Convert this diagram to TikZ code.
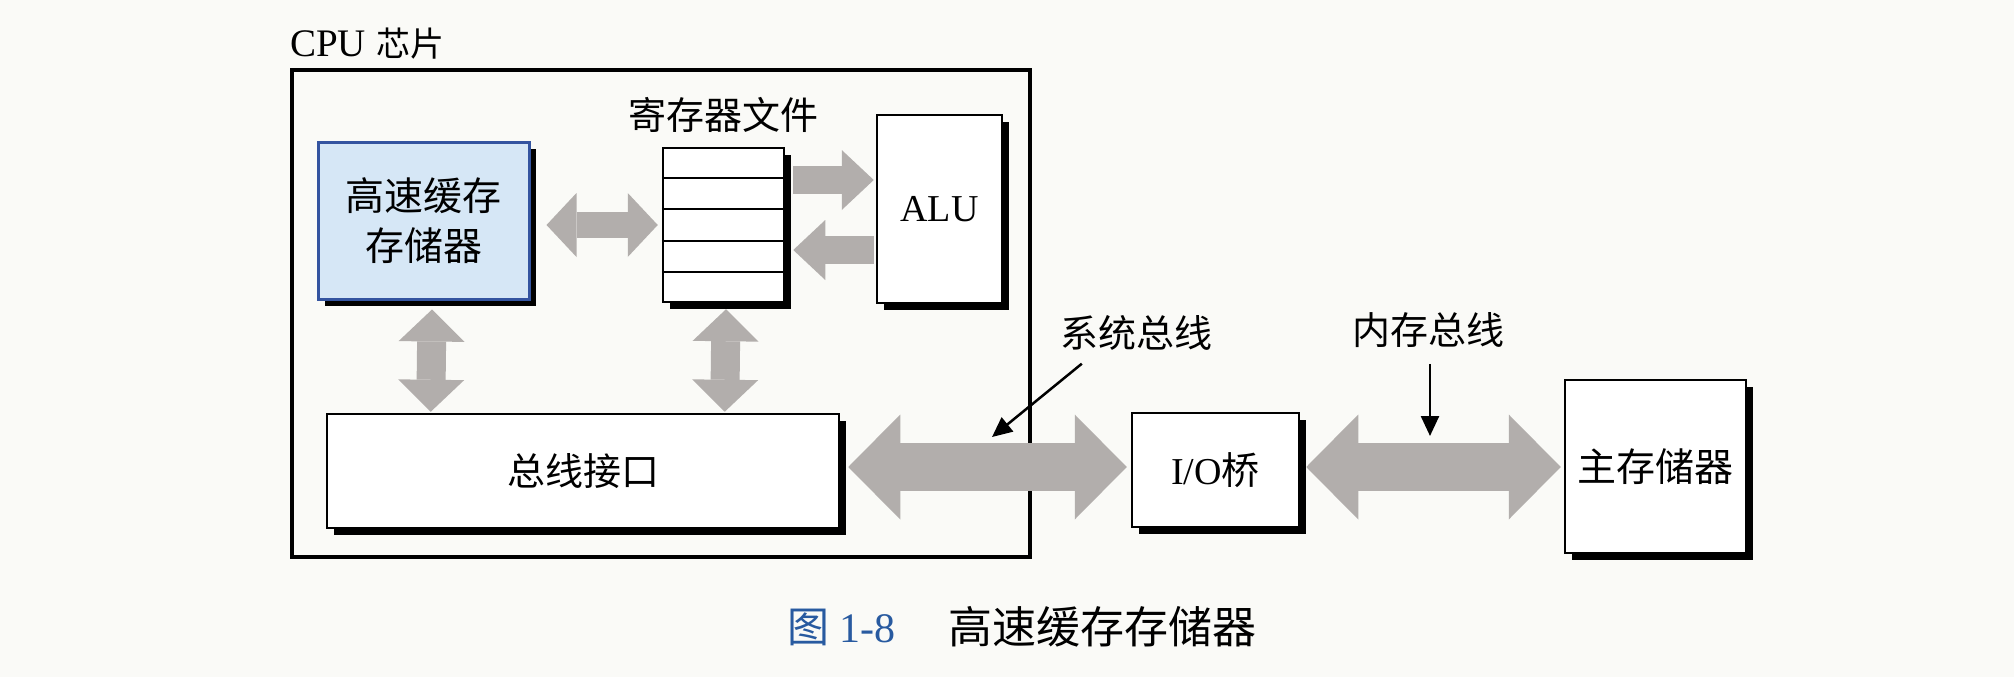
\documentclass[tikz,border=0pt]{standalone}
\usepackage{xcolor}
\usepackage{tikz}
\usepackage{fontspec}
\setmainfont{Liberation Serif}
\newfontfamily\cjk{Noto Sans CJK SC}
\usetikzlibrary{calc}
\usetikzlibrary{shadows}
\usetikzlibrary{arrows.meta, positioning}

\definecolor{paper}{RGB}{250,250,247}
\definecolor{cachefill}{RGB}{214,231,246}
\definecolor{cacheline}{RGB}{52,84,160}
\definecolor{busgray}{RGB}{178,174,172}
\definecolor{capblue}{RGB}{40,90,160}

\begin{document}
\begin{tikzpicture}[x=1pt,y=-1pt,
    box node/.style={rectangle,draw,line width=2.5pt,fill=white,inner sep=0pt,
      drop shadow={shadow xshift=7pt,shadow yshift=-7pt,fill=black,opacity=1},
      font=\fontsize{38}{48}\selectfont},
    label node/.style={inner sep=0pt,font=\fontsize{38}{48}\selectfont\cjk},
    mid bus/.style={draw=busgray,line width=26pt,>={Triangle[length=30pt,width=64pt,line width=0pt]}},
    reg bus/.style={draw=busgray,line width=28pt,>={Triangle[length=32pt,width=60pt,line width=0pt]}},
    up bus/.style={draw=busgray,line width=29pt,>={Triangle[length=32pt,width=66pt,line width=0pt]}},
    big bus/.style={draw=busgray,line width=48pt,>={Triangle[length=52pt,width=105pt,line width=0pt]}},
    pointer/.style={draw=black,line width=2.5pt,-{Triangle[length=20pt,width=18pt]}}]

  \path[use as bounding box,fill=paper] (0,0) rectangle (2014,677);

  % CPU chip frame
  \node[draw,line width=4pt,minimum width=738pt,minimum height=487pt,inner sep=0pt] (0) at (661,313.5) {};
  \node[label node,font=\fontsize{39}{44}\selectfont,above right=9pt and 0pt of 0.north west] (l0) {CPU\hspace{10pt}{\fontsize{34}{40}\selectfont\cjk 芯片}};

  \node[box node,draw=cacheline,fill=cachefill,line width=3pt,minimum width=211pt,minimum height=157pt,
        align=center,font=\fontsize{39}{50}\selectfont\cjk] (1) at (423.5,220.5) {高速缓存\\存储器};
  \node[box node,minimum width=121pt,minimum height=154pt] (2) at (723.5,225) {};
  \node[label node,above=14pt of 2] (l2) {寄存器文件};
  \node[box node,minimum width=125pt,minimum height=188pt] (3) at (939.5,209) {ALU};
  \node[box node,minimum width=512pt,minimum height=114pt,font=\fontsize{38}{48}\selectfont\cjk] (4) at (583,471) {总线接口};
  \node[box node,minimum width=167pt,minimum height=114pt] (5) at (1215.5,470) {I/O{\cjk 桥}};
  \node[box node,minimum width=181pt,minimum height=173pt,font=\fontsize{39}{48}\selectfont\cjk] (6) at (1655.5,466.5) {主存储器};

  % register rows
  \draw[line width=2pt] ($(2.north west)!0.2!(2.south west)$) -- ($(2.north east)!0.2!(2.south east)$);
  \draw[line width=2pt] ($(2.north west)!0.4!(2.south west)$) -- ($(2.north east)!0.4!(2.south east)$);
  \draw[line width=2pt] ($(2.north west)!0.6!(2.south west)$) -- ($(2.north east)!0.6!(2.south east)$);
  \draw[line width=2pt] ($(2.north west)!0.8!(2.south west)$) -- ($(2.north east)!0.8!(2.south east)$);

  % bus labels
  \node[label node] (l5) at (1136,333) {系统总线};
  \node[label node] (l6) at (1428,330) {内存总线};
  \coordinate (p5) at (992,437);
  \coordinate (p6) at (1430,436);

  \path
    ($(1.east)+(16,4.5)$) edge[mid bus,<->] ($(2.west)+(-4,0)$)
    ($(2.east)+(8,-45)$) edge[reg bus,->] ($(3.west)+(-2,-29)$)
    ($(3.west)+(-2,41)$) edge[reg bus,->] ($(2.east)+(8,25)$)
    ($(1.south)+(8.5,9)$) edge[up bus,<->] ($(4.north west)+(105,-1)$)
    ($(2.south)+(2.5,6)$) edge[up bus,<->] ($(4.north west)+(399,-1)$)
    ($(4.east)+(8,-4)$) edge[big bus,<->] ($(5.west)+(-4,-3)$)
    ($(5.east)+(6,-3)$) edge[big bus,<->] ($(6.west)+(-3,0.5)$)
    ;

  \draw[pointer] ($(l5.south west)+(22,13)$) -- (p5);
  \draw[pointer] (l6.south -| p6) ++(0,16) -- (p6);

  % caption
  \node[inner sep=0pt,anchor=west,font=\fontsize{42}{50}\selectfont,text=capblue] (c1) at (787,627) {{\cjk 图} 1-8};
  \node[inner sep=0pt,font=\fontsize{44}{50}\selectfont\cjk,right=52pt of c1] (c2) {高速缓存存储器};
\end{tikzpicture}
\end{document}
